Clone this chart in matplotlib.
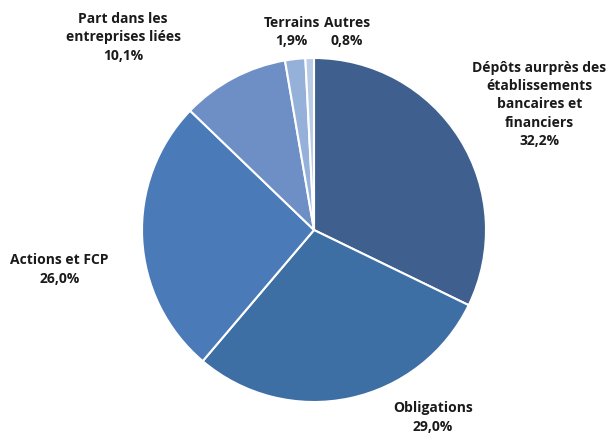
import matplotlib.pyplot as plt

# Répartition des placements
categories = ['Dépôts aurprès des\nétablissements\nbancaires et\nfinanciers',
              'Obligations', 'Actions et FCP',
              'Part dans les\nentreprises liées', 'Terrains', 'Autres']
parts = [32.2, 29.0, 26.0, 10.1, 1.9, 0.8]
couleurs = ['#3f5f8e', '#3d6ea4', '#4a7bb8', '#6d8fc5', '#95b1da', '#b9cbe6']

# positions des étiquettes (coordonnées du camembert, rayon = 1)
pos_labels = [(1.31, 0.73), (0.69, -1.09), (-1.48, -0.23),
              (-1.11, 1.12), (-0.13, 1.15), (0.19, 1.15)]

fig = plt.figure(figsize=(6.08, 4.36), dpi=100)
ax = fig.add_axes([(314 - 172) / 608, (436 - 230 - 172) / 436, 344 / 608, 344 / 436])

ax.pie(parts, colors=couleurs, startangle=90, counterclock=False,
       wedgeprops={'edgecolor': 'white', 'linewidth': 1.5})
ax.set_xlim(-1, 1)
ax.set_ylim(-1, 1)
ax.set_aspect('equal')
ax.axis('off')

for cat, val, (x, y) in zip(categories, parts, pos_labels):
    txt = cat + '\n' + f'{val:.1f}'.replace('.', ',') + '%'
    ax.text(x, y, txt, ha='center', va='center', fontsize=10, fontweight='bold',
            family='Open Sans', color='#1a1a1a', linespacing=1.4, clip_on=False)

fig.savefig('out.png', dpi=100)
